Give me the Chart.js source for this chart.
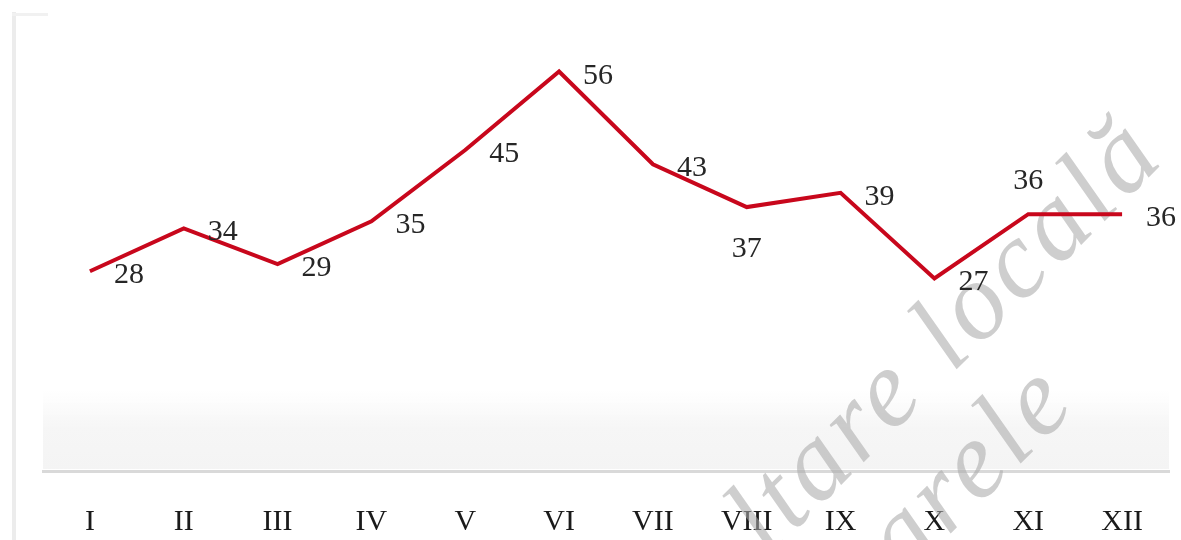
<!DOCTYPE html>
<html>
<head>
<meta charset="utf-8">
<script src="https://cdn.jsdelivr.net/npm/chart.js@4.4.1/dist/chart.umd.min.js"></script>
<style>
  html, body { margin: 0; padding: 0; background: #fff; }
  #wrap { position: relative; width: 1181px; height: 540px; }
  /* faint frame on the left of the scan */
  #frameL { position: absolute; left: 12px; top: 12px; width: 4px; height: 528px; background: #ececec; }
  #frameT { position: absolute; left: 12px; top: 13px; width: 36px; height: 3px; background: #f1f1f1; }
</style>
</head>
<body>
<div id="wrap">
  <div id="frameL"></div>
  <div id="frameT"></div>
  <canvas id="myChart" width="1181" height="540"></canvas>
</div>
<script>
  // data
  const months = ['I', 'II', 'III', 'IV', 'V', 'VI', 'VII', 'VIII', 'IX', 'X', 'XI', 'XII']
  const values = [28, 34, 29, 35, 45, 56, 43, 37, 39, 27, 36, 36]
  const yTicks = [0, 60]

  // where each value label sits next to its point
  const labelSide = ['right', 'right', 'right', 'right', 'right', 'right', 'right', 'below', 'right', 'right', 'above', 'right']

  const serif = '"Liberation Serif", "Times New Roman", serif'

  // light grey wash at the bottom of the plot
  const plotWash = {
    id: 'plotWash',
    beforeDatasetsDraw(chart) {
      const { ctx, chartArea } = chart
      const top = chartArea.bottom - 80
      const g = ctx.createLinearGradient(0, top, 0, chartArea.bottom)
      g.addColorStop(0, 'rgba(246,246,246,0)')
      g.addColorStop(0.45, 'rgba(246,246,246,1)')
      g.addColorStop(1, 'rgba(244,244,244,1)')
      ctx.save()
      ctx.fillStyle = g
      ctx.fillRect(chartArea.left, top, chartArea.right - chartArea.left, chartArea.bottom - top - 2)
      ctx.restore()
    }
  }

  // watermark of the scanned page (sits behind the line)
  const watermark = {
    id: 'watermark',
    beforeDatasetsDraw(chart) {
      const { ctx, chartArea } = chart
      const cx = chartArea.left + (chartArea.right - chartArea.left) * 0.757
      const cy = chartArea.top + (chartArea.bottom - chartArea.top) * 0.822
      const size = 110
      ctx.save()
      ctx.translate(cx, cy)
      ctx.rotate(-45 * Math.PI / 180)
      ctx.font = 'italic ' + size + 'px ' + serif
      ctx.letterSpacing = '5px'
      ctx.fillStyle = 'rgba(170,170,170,0.58)'
      ctx.textBaseline = 'alphabetic'
      ctx.textAlign = 'left'
      const half = size * 0.23
      const x1 = -(ctx.measureText('ltar').width + ctx.measureText('e').width / 2)
      ctx.fillText('ltare locală', x1, half)
      const x2 = 30 - ctx.measureText('a').width - ctx.measureText('rele').width / 2
      ctx.fillText('arele', x2, 112 + half)
      ctx.restore()
    }
  }

  // value labels
  const valueLabels = {
    id: 'valueLabels',
    afterDatasetsDraw(chart) {
      const { ctx } = chart
      const meta = chart.getDatasetMeta(0)
      ctx.save()
      ctx.font = '30px ' + serif
      ctx.fillStyle = '#262626'
      ctx.textBaseline = 'alphabetic'
      meta.data.forEach((pt, i) => {
        const txt = String(values[i])
        const side = labelSide[i]
        if (side === 'right') {
          ctx.textAlign = 'left'
          ctx.fillText(txt, pt.x + 24, pt.y + 12)
        } else if (side === 'below') {
          ctx.textAlign = 'center'
          ctx.fillText(txt, pt.x, pt.y + 50)
        } else {
          ctx.textAlign = 'center'
          ctx.fillText(txt, pt.x, pt.y - 25)
        }
      })
      ctx.restore()
    }
  }

  const ctx = document.getElementById('myChart')
  // eslint-disable-next-line no-unused-vars
  const myChart = new Chart(ctx, {
    type: 'line',
    data: {
      labels: months,
      datasets: [{
        data: values,
        borderColor: '#c8071c',
        borderWidth: 4,
        tension: 0,
        pointRadius: 0,
        pointHoverRadius: 0,
        fill: false
      }]
    },
    options: {
      responsive: false,
      animation: false,
      layout: { padding: { left: 43, right: 12, top: 43, bottom: 0 } },
      plugins: {
        legend: { display: false },
        tooltip: { enabled: false }
      },
      scales: {
        x: {
          offset: true,
          grid: { display: false },
          border: { display: true, color: '#d9d9d9', width: 3 },
          ticks: {
            color: '#1a1a1a',
            padding: 25,
            font: { family: serif, size: 30 }
          },
          afterFit(scale) { scale.height = 69 }
        },
        y: {
          display: false,
          min: yTicks[0],
          max: yTicks[1]
        }
      }
    },
    plugins: [plotWash, watermark, valueLabels]
  })
</script>
</body>
</html>
